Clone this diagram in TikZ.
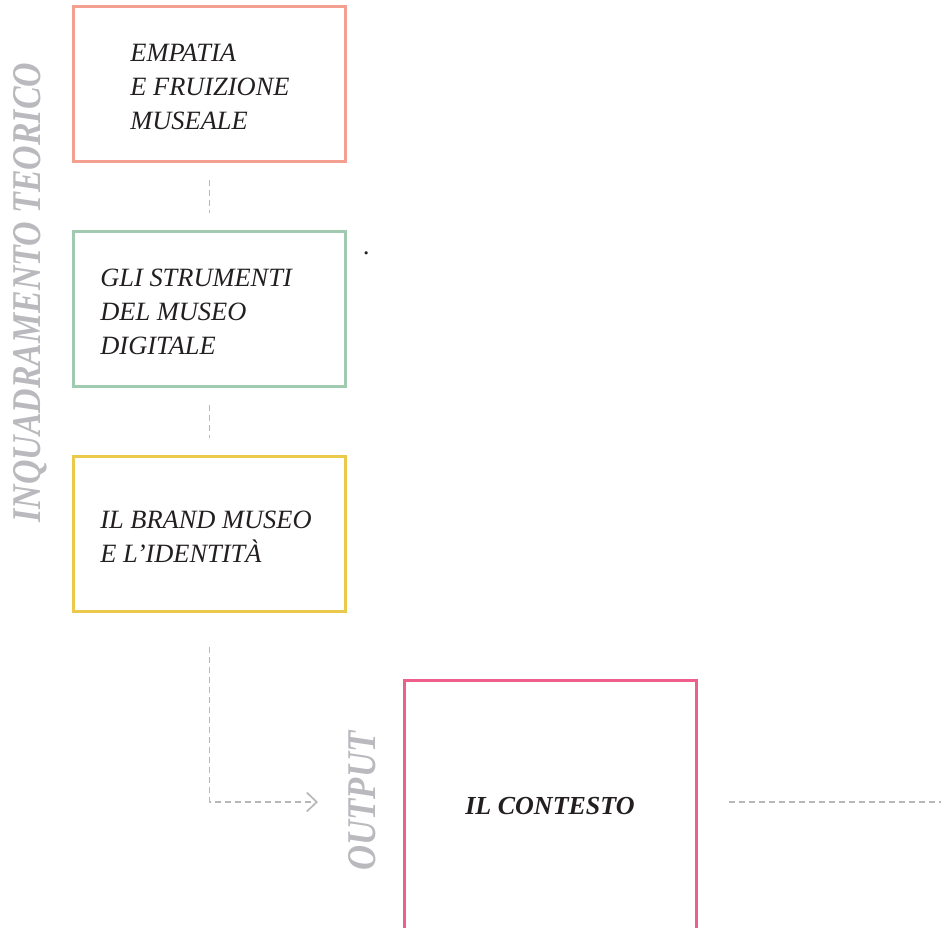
\documentclass[tikz,border=0pt]{standalone}
\usepackage{fontspec}
\setmainfont{Liberation Serif}
\usetikzlibrary{arrows.meta,positioning}
\definecolor{BoxSalmon}{HTML}{F4A091}
\definecolor{BoxGreen}{HTML}{A0CBB1}
\definecolor{BoxYellow}{HTML}{EBC94C}
\definecolor{BoxPink}{HTML}{EE5F8C}
\definecolor{SideGray}{HTML}{B9B9BE}
\definecolor{LineGray}{HTML}{B8B8B8}
\definecolor{InkBlack}{HTML}{231F20}

\begin{document}
\begin{tikzpicture}[x=0.5pt,y=-0.5pt,node distance=33.5pt,
    box/.style={draw,line width=1.4pt,minimum width=136.1pt,
                minimum height=77.6pt,inner sep=0pt},
    txt/.style={anchor=west,align=left,inner sep=0pt,text=InkBlack,
                font=\fontsize{13.2}{17}\selectfont\itshape},
    side/.style={rotate=90,anchor=base,inner sep=0pt,text=SideGray,
                 font=\fontsize{20.4}{24}\selectfont\bfseries\itshape},
    conn/.style={draw=LineGray,line width=0.85pt,dash pattern=on 3pt off 2pt}]

    \useasboundingbox (0,0) rectangle (941,927);

    \node[box,draw=BoxSalmon] (empatia) at (209.5,84) {};
    \node[box,draw=BoxGreen]  (strumenti) [below=of empatia]   {};
    \node[box,draw=BoxYellow] (brand)     [below=of strumenti] {};
    \node[box,draw=BoxPink,minimum width=146.1pt,minimum height=140pt,
          anchor=north] (contesto) at (550.5,679) {};

    \node[txt] (empatiatxt)   at ([xshift=29pt,yshift=-1.5pt]empatia.west)
          {EMPATIA\\E FRUIZIONE\\MUSEALE};
    \node[txt] (strumentitxt) at ([xshift=14pt,yshift=-1.5pt]strumenti.west)
          {GLI STRUMENTI\\DEL MUSEO\\DIGITALE};
    \node[txt] (brandtxt)     at ([xshift=14pt,yshift=-1.5pt]brand.west)
          {IL BRAND MUSEO\\E L'IDENTITÀ};
    \node[txt,anchor=center,font=\fontsize{13}{16}\selectfont\bfseries\itshape]
          (contestotxt) at (550,806) {IL CONTESTO};
    \node[txt,anchor=base] (dot) at (367,254) {.};

    % side labels
    \node[side] (teorico) at (40,292.5)
          {\scalebox{0.83}[1]{INQUADRAMENTO TEORICO}};
    \node[side] (output) at (375,801) {\scalebox{0.85}[1]{OUTPUT}};

    \coordinate (arrowend) at (318,802);
    \coordinate (outend)   at (941,802);

    % dashed links
    \foreach \a/\b in {empatia/strumenti,strumenti/brand}{
      \draw[conn,shorten <=8.5pt,shorten >=8.5pt] (\a) -- (\b);
    }
    \draw[conn,-{Straight Barb[length=5pt,width=9.5pt]},shorten <=17pt]
      (brand.south) |- (arrowend);
    \draw[conn,shorten <=15.5pt] (contesto.east |- outend) -- (outend);
\end{tikzpicture}
\end{document}
